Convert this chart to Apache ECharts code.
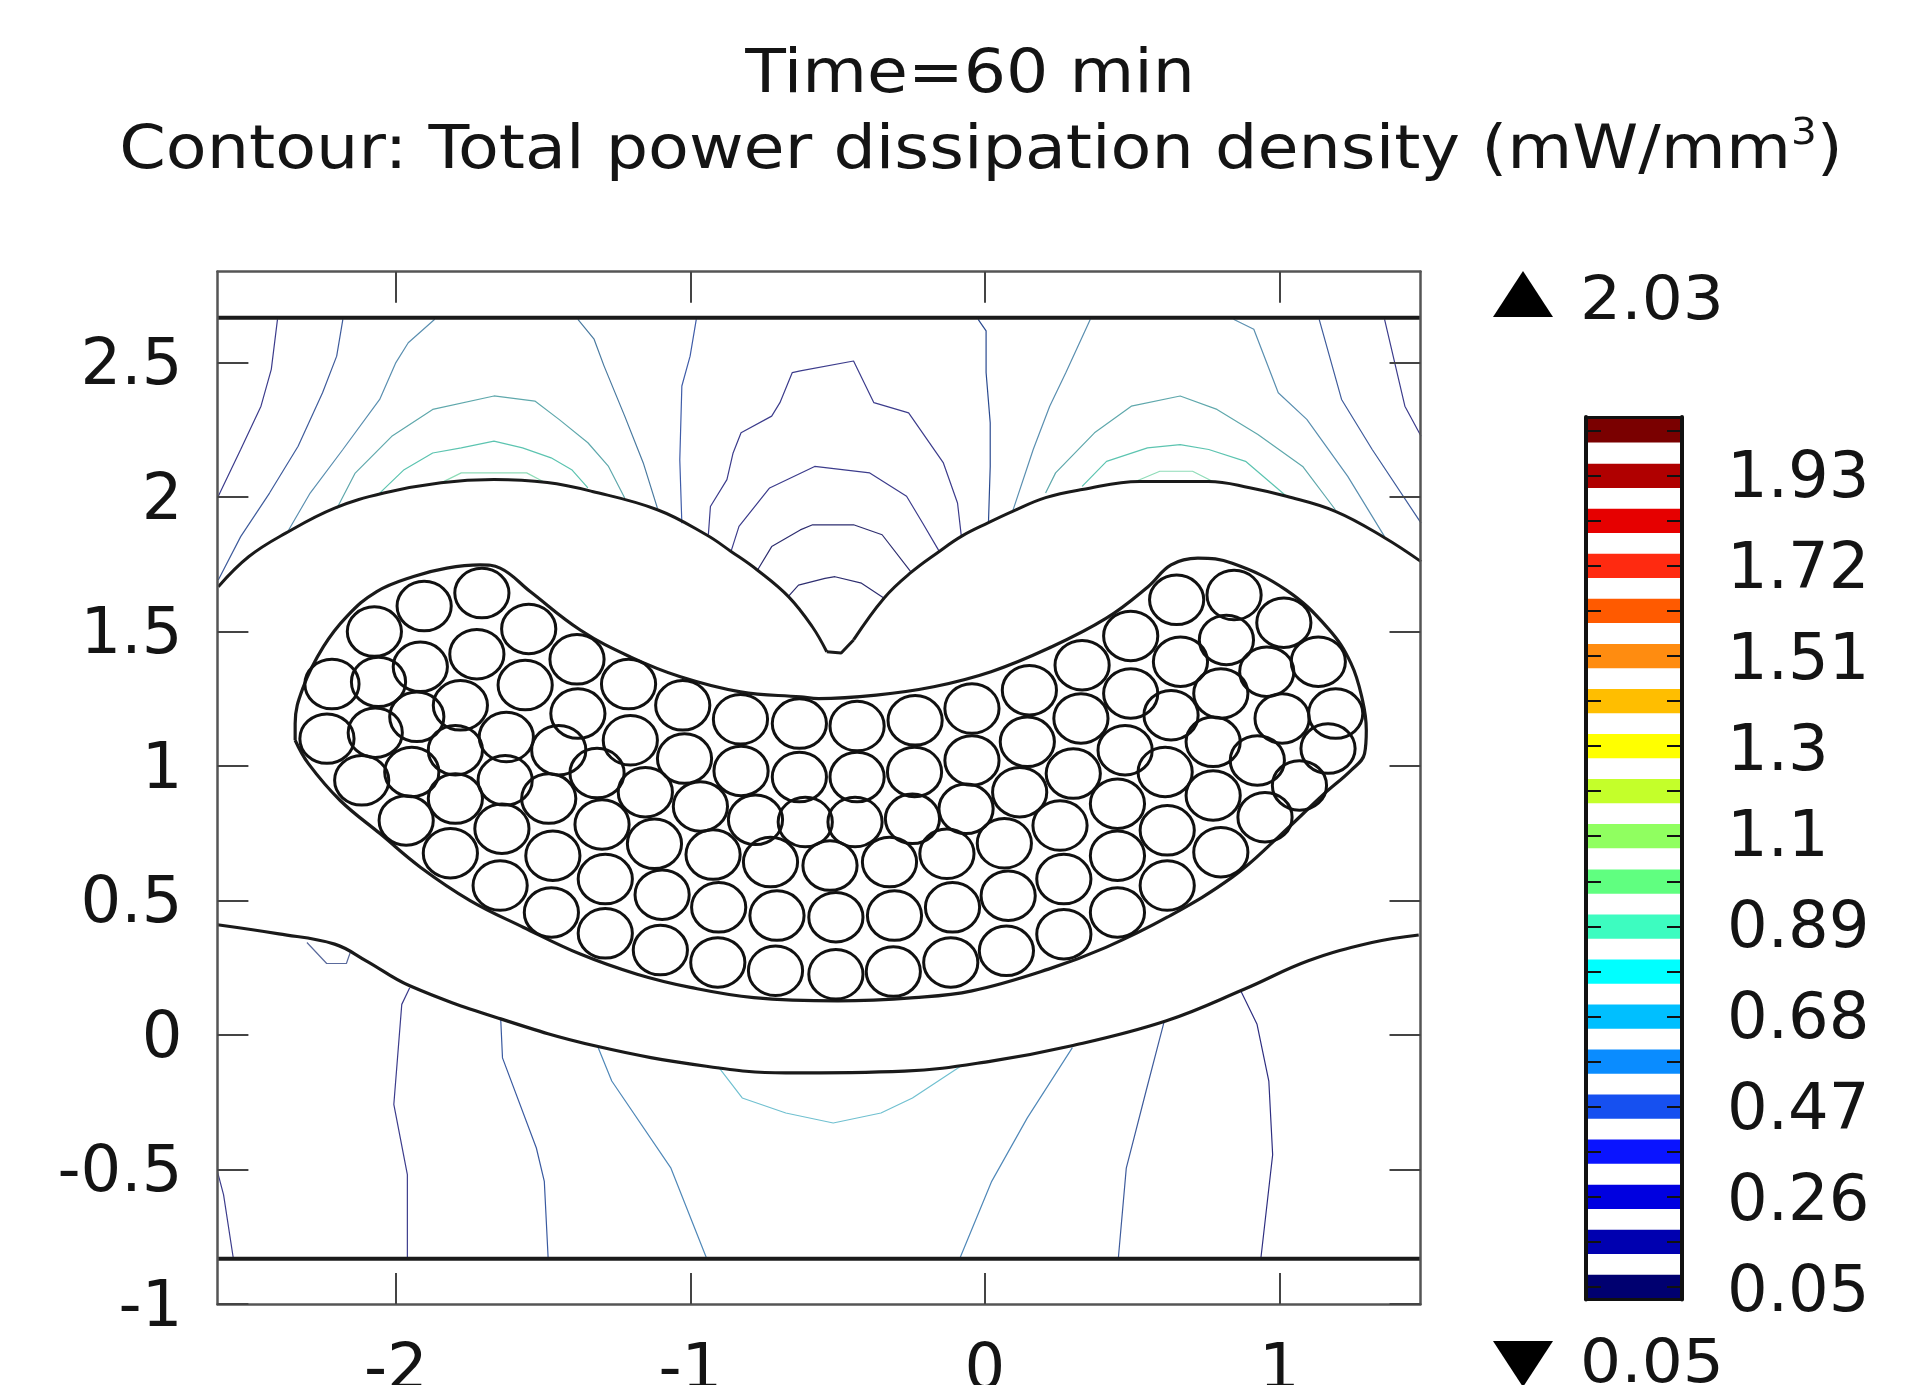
<!DOCTYPE html>
<html>
<head>
<meta charset="utf-8">
<style>html,body{margin:0;padding:0;background:#fff;overflow:hidden}#c{width:1915px;height:1385px;filter:blur(0.5px)}</style>
<script src="https://cdn.jsdelivr.net/npm/echarts@6/dist/echarts.min.js"></script>
</head>
<body>
<div id="c"></div>
<script>
const titleLine1 = 'Time=60 min';
const titleLine2 = 'Contour: Total power dissipation density (mW/mm';
const titleSup = '3';
const titleEnd = ')';
const xTicks = [-2, -1, 0, 1];
const yTicks = [-1, -0.5, 0, 0.5, 1, 1.5, 2, 2.5];
const barLabels = [0.05, 0.26, 0.47, 0.68, 0.89, 1.1, 1.3, 1.51, 1.72, 1.93];
const barLevels = [0.05,0.154,0.258,0.363,0.467,0.571,0.675,0.779,0.883,0.987,1.092,1.196,1.3,1.404,1.508,1.613,1.717,1.821,1.925,2.03];
const barColours = ['#000070','#0000b0','#0000e0','#0a14ff','#1650f0','#0a8cff','#00bfff','#00ffff','#3dfcc0','#60ff80','#90ff60','#c4ff2a','#ffff00','#ffbe00','#ff8c10','#ff5a00','#ff2a10','#e60000','#b00000','#7a0000'];
const maxLabel = '2.03';
const minLabel = '0.05';

const wireRadius = 0.092;
const wireCentres = [
[-1.708,1.643],[-1.904,1.595],[-2.073,1.5],[-1.549,1.51],[-1.725,1.416],[-1.917,1.369],[-1.385,1.397],[-1.561,1.301],[-1.21,1.305],[-1.026,1.226],[-0.83,1.174],
[-2.217,1.305],[-2.059,1.313],[-1.781,1.226],[-1.382,1.195],[-1.929,1.183],[-2.234,1.102],[-2.07,1.124],[-1.625,1.108],[-1.798,1.059],[-1.447,1.059],[-1.204,1.096],[-1.02,1.028],[-0.828,0.982],
[-1.317,0.974],[-1.153,0.903],[-0.966,0.85],[-0.779,0.8],[-1.946,0.978],[-2.116,0.947],[-1.629,0.947],[-1.798,0.879],[-1.481,0.879],[-1.3,0.783],[-1.965,0.798],[-1.64,0.767],[-1.122,0.711],[-0.923,0.671],[-0.728,0.643],
[-1.815,0.676],[-1.467,0.667],[-1.646,0.556],[-1.289,0.58],[-1.096,0.522],[-0.904,0.475],[-0.706,0.444],[-1.472,0.456],[-1.289,0.378],[-1.102,0.316],[-0.907,0.27],[-0.711,0.239],
[0.651,1.618],[0.846,1.636],[1.015,1.533],[0.82,1.469],[0.495,1.484],[0.664,1.388],[1.132,1.388],[0.957,1.351],[0.33,1.375],[0.495,1.27],[0.801,1.27],[1.191,1.195],[1.009,1.177],[0.632,1.189],
[0.151,1.282],[-0.044,1.214],[-0.237,1.17],[-0.434,1.149],[-0.63,1.158],[0.326,1.177],[0.476,1.059],[0.144,1.09],[0.775,1.09],[1.165,1.065],[0.925,1.021],[0.3,0.972],[0.612,0.978],
[-0.044,1.021],[-0.239,0.978],[-0.434,0.959],[-0.63,0.959],[1.068,0.928],[0.118,0.903],[0.45,0.86],[0.775,0.891],[-0.064,0.841],[-0.246,0.804],[-0.441,0.792],[-0.61,0.792],[0.951,0.81],[0.255,0.779],[0.619,0.761],
[0.066,0.713],[-0.129,0.674],[0.45,0.667],[0.801,0.68],[-0.324,0.643],[-0.526,0.63],[0.268,0.58],[0.619,0.556],[0.079,0.518],[-0.11,0.475],[-0.307,0.444],[-0.506,0.438],[0.45,0.456],[0.268,0.375],[0.073,0.313],[-0.116,0.27],[-0.311,0.236],[-0.506,0.226]
];

const bundleOutline = [
[-2.342,1.096],[-2.342,1.158],[-2.314,1.295],[-2.246,1.444],[-2.167,1.556],[-2.065,1.649],[-1.94,1.705],[-1.827,1.736],[-1.714,1.748],[-1.646,1.736],[-1.544,1.649],[-1.374,1.506],[-1.204,1.406],[-1.034,1.332],[-0.83,1.276],[-0.626,1.257],
[-0.565,1.251],[-0.369,1.264],[-0.174,1.295],[0.021,1.351],[0.216,1.438],[0.411,1.549],[0.554,1.667],[0.632,1.748],[0.723,1.773],[0.84,1.754],[1.022,1.655],[1.165,1.512],[1.243,1.382],[1.282,1.245],[1.295,1.133],[1.289,1.046],
[1.243,0.984],[1.152,0.897],[0.996,0.736],[0.84,0.587],[0.619,0.438],[0.411,0.326],[0.216,0.245],[-0.044,0.164],[-0.239,0.139],[-0.499,0.127],[-0.785,0.139],[-1,0.177],[-1.181,0.226],[-1.374,0.301],[-1.566,0.4],[-1.748,0.5],[-1.917,0.624],[-2.053,0.748],[-2.189,0.872],[-2.297,1.009],[-2.342,1.096]
];
const upperLeft = [[-2.603,1.667],[-2.499,1.779],[-2.374,1.866],[-2.208,1.959],[-2.041,2.015],[-1.847,2.053],[-1.667,2.065],[-1.486,2.054],[-1.333,2.021],[-1.112,1.953],[-0.946,1.86],[-0.862,1.798],[-0.773,1.729],[-0.667,1.63],[-0.586,1.518],[-0.537,1.425]];
const upperNotch = [[-0.537,1.425],[-0.488,1.42],[-0.446,1.469]];
const upperRight = [[-0.446,1.469],[-0.342,1.625],[-0.253,1.718],[-0.155,1.798],[-0.08,1.854],[0.012,1.905],[0.094,1.947],[0.206,1.998],[0.33,2.028],[0.525,2.058],[0.76,2.058],[0.899,2.035],[1.024,2.003],[1.19,1.947],[1.357,1.849],[1.481,1.76]];
const lowerCurve = [[-2.606,0.41],[-2.397,0.376],[-2.208,0.338],[-2.101,0.276],[-1.953,0.183],[-1.644,0.06],[-1.321,-0.041],[-0.946,-0.116],[-0.676,-0.141],[-0.273,-0.134],[0.022,-0.097],[0.291,-0.041],[0.614,0.052],[0.882,0.171],[1.098,0.276],[1.314,0.344],[1.473,0.372]];
const topWall = [[-2.606,2.667],[1.479,2.667]];
const bottomWall = [[-2.606,-0.832],[1.479,-0.832]];

const c1 = [[-2.402,2.661],[-2.423,2.475],[-2.458,2.338],[-2.527,2.177],[-2.603,2.003]];
const c2 = [[-2.18,2.661],[-2.201,2.524],[-2.249,2.388],[-2.332,2.189],[-2.429,2.015],[-2.527,1.853],[-2.603,1.692]];
const c3 = [[-1.868,2.661],[-1.958,2.574],[-2,2.5],[-2.055,2.363],[-2.18,2.177],[-2.291,2.015],[-2.367,1.872]];
const c4 = [[-2.201,1.957],[-2.139,2.088],[-2.014,2.226],[-1.875,2.326],[-1.667,2.376],[-1.528,2.357],[-1.445,2.288],[-1.348,2.202],[-1.278,2.114],[-1.223,1.997]];
const c5 = [[-2.055,2.015],[-1.972,2.102],[-1.875,2.164],[-1.778,2.183],[-1.667,2.208],[-1.57,2.183],[-1.473,2.146],[-1.403,2.102],[-1.348,2.034]];
const c6 = [[-1.847,2.053],[-1.778,2.09],[-1.556,2.09],[-1.5,2.058]];
const c7 = [[-1.382,2.661],[-1.327,2.587],[-1.293,2.487],[-1.223,2.301],[-1.16,2.127],[-1.112,1.959]];
const c8 = [[-0.98,2.661],[-1.001,2.524],[-1.029,2.413],[-1.036,2.139],[-1.029,1.903]];
const c9 = [[-0.939,1.86],[-0.932,1.965],[-0.876,2.065],[-0.855,2.164],[-0.828,2.239],[-0.724,2.301],[-0.696,2.351],[-0.654,2.463],[-0.627,2.469],[-0.446,2.506],[-0.377,2.351],[-0.259,2.313],[-0.141,2.127],[-0.093,1.978],[-0.08,1.854]];
const c10 = [[-0.862,1.798],[-0.835,1.891],[-0.731,2.034],[-0.578,2.114],[-0.391,2.09],[-0.266,2.003],[-0.211,1.903],[-0.155,1.798]];
const c11 = [[-0.772,1.729],[-0.724,1.816],[-0.627,1.878],[-0.585,1.897],[-0.446,1.897],[-0.349,1.86],[-0.252,1.723]];
const c12 = [[-0.668,1.63],[-0.633,1.673],[-0.543,1.698],[-0.509,1.704],[-0.419,1.68],[-0.342,1.624]];
const c13 = [[-0.023,2.661],[0.004,2.618],[0.004,2.463],[0.018,2.276],[0.018,2.114],[0.012,1.903]];
const c14 = [[0.358,2.661],[0.275,2.463],[0.22,2.338],[0.164,2.177],[0.094,1.947]];
const c15 = [[0.206,2.015],[0.24,2.09],[0.372,2.239],[0.497,2.338],[0.663,2.376],[0.788,2.326],[0.927,2.233],[1.079,2.114],[1.19,1.953]];
const c16 = [[0.33,2.04],[0.413,2.133],[0.552,2.183],[0.663,2.195],[0.76,2.177],[0.885,2.133],[1.024,2.003]];
const c17 = [[0.511,2.058],[0.594,2.096],[0.705,2.096],[0.774,2.058]];
const c18 = [[0.844,2.661],[0.913,2.624],[0.996,2.388],[1.093,2.289],[1.232,2.077],[1.357,1.853]];
const c19 = [[1.135,2.661],[1.211,2.363],[1.315,2.177],[1.481,1.903]];
const c20 = [[1.357,2.661],[1.426,2.338],[1.481,2.226]];
const b1 = [[-2.302,0.344],[-2.235,0.266],[-2.168,0.266],[-2.155,0.307]];
const b2 = [[-1.953,0.176],[-1.98,0.114],[-2.007,-0.258],[-1.961,-0.519],[-1.961,-0.83]];
const b3 = [[-1.644,0.059],[-1.638,-0.085],[-1.523,-0.42],[-1.496,-0.544],[-1.483,-0.83]];
const b4 = [[-1.313,-0.047],[-1.267,-0.171],[-1.066,-0.495],[-0.945,-0.83]];
const b5 = [[-0.905,-0.118],[-0.824,-0.234],[-0.676,-0.29],[-0.515,-0.327],[-0.353,-0.29],[-0.246,-0.234],[-0.085,-0.118]];
const b6 = [[0.297,-0.047],[0.144,-0.308],[0.023,-0.544],[-0.085,-0.83]];
const b7 = [[0.609,0.052],[0.547,-0.209],[0.48,-0.495],[0.453,-0.83]];
const b8 = [[0.869,0.164],[0.924,0.04],[0.964,-0.171],[0.977,-0.445],[0.937,-0.83]];
const b9 = [[-2.606,-0.507],[-2.585,-0.594],[-2.552,-0.83]];

const FONT = '"DejaVu Sans"';
const INK = '#141414';
const contourSet = [
 [c1,'#3c3c8c'],[c2,'#3f5c9c'],[c3,'#5a8fb0'],[c4,'#5fa8ac'],[c5,'#5cc4b0'],[c6,'#8fdcb8'],[c7,'#4a7aa0'],[c8,'#3f5ca8'],[c9,'#3c3c8c'],[c10,'#3c3c8c'],
 [c11,'#2e2e70'],[c12,'#2e2e70'],[c13,'#2a4a90'],[c14,'#5a8fb0'],[c15,'#5fa8ac'],[c16,'#5cc4b0'],[c17,'#8fdcb8'],[c18,'#5a8fb0'],[c19,'#3f5c9c'],[c20,'#3c3c8c'],
 [b1,'#5a6a9c'],[b2,'#3c3c8c'],[b3,'#3a5aa0'],[b4,'#5088b8'],[b5,'#70c0d0'],[b6,'#5088b8'],[b7,'#3f5c9c'],[b8,'#2e2e80'],[b9,'#3c3c8c']
];
const solidCurves = [[upperLeft,3,0.4],[upperNotch,3,false],[upperRight,3,0.4],[lowerCurve,3.2,0.4],[bundleOutline,3.2,0.4],[topWall,4,false],[bottomWall,4,false]];

const series = [];
contourSet.forEach(([pts,col])=>series.push({type:'line',data:pts,xAxisIndex:0,yAxisIndex:0,showSymbol:false,silent:true,clip:true,animation:false,lineStyle:{color:col,width:1.2},z:3}));
solidCurves.forEach(([pts,w,sm])=>series.push({type:'line',data:pts,xAxisIndex:0,yAxisIndex:0,showSymbol:false,silent:true,smooth:sm,animation:false,lineStyle:{color:'#1a1a1a',width:w},z:4}));
series.push({type:'custom',data:wireCentres,xAxisIndex:0,yAxisIndex:0,silent:true,animation:false,z:5,clip:false,
 encode:{x:0,y:1},
 renderItem:(p,api)=>{const c=api.coord([api.value(0),api.value(1)]);const s=api.size([wireRadius,wireRadius]);
  return {type:'ellipse',shape:{cx:c[0],cy:c[1],rx:s[0],ry:s[1]},style:{fill:'none',stroke:'#111',lineWidth:3}};}});
series.push({type:'custom',data:barLevels.map(v=>[0.5,v]),xAxisIndex:2,yAxisIndex:2,silent:true,animation:false,z:2,
 encode:{x:0,y:1},
 renderItem:(p,api)=>{const v=api.value(1);const half=0.028;const a=api.coord([0,v+half]);const b=api.coord([1,v-half]);
  return {type:'rect',shape:{x:a[0],y:a[1],width:b[0]-a[0],height:b[1]-a[1]},style:{fill:barColours[p.dataIndex]}};}});

const XMIN=-2.606,XMAX=1.479,YMIN=-1,YMAX=2.838,BMIN=0.021,BMAX=2.061;
const mainTick=(vals)=>({show:true,inside:true,length:31,customValues:vals,lineStyle:{color:'#444',width:2}});
const mainLine={show:true,onZero:false,lineStyle:{color:'#555',width:2.5}};
const barLine=(w)=>({show:true,onZero:false,lineStyle:{color:'#111',width:w}});
const fmt=v=>String(v);
const option={
 backgroundColor:'#fff',animation:false,
 grid:[
  {left:217.4,top:271.7,width:1203.1,height:1032.3,containLabel:false,outerBoundsMode:'none'},
  {left:1586,top:417,width:96,height:882.5,containLabel:false,outerBoundsMode:'none'}
 ],
 xAxis:[
  {type:'value',gridIndex:0,position:'bottom',min:XMIN,max:XMAX,splitLine:{show:false},z:6,axisLine:mainLine,axisTick:mainTick(xTicks),
   axisLabel:{show:true,customValues:xTicks,formatter:fmt,fontFamily:FONT,fontSize:64,color:INK,margin:36}},
  {type:'value',gridIndex:0,position:'top',min:XMIN,max:XMAX,splitLine:{show:false},z:6,axisLine:mainLine,axisTick:mainTick(xTicks),axisLabel:{show:false}},
  {type:'value',gridIndex:1,position:'bottom',min:0,max:1,splitLine:{show:false},z:6,axisLine:barLine(3),axisTick:{show:false},axisLabel:{show:false}},
  {type:'value',gridIndex:1,position:'top',min:0,max:1,splitLine:{show:false},z:6,axisLine:barLine(3),axisTick:{show:false},axisLabel:{show:false}}
 ],
 yAxis:[
  {type:'value',gridIndex:0,position:'left',min:YMIN,max:YMAX,splitLine:{show:false},z:6,axisLine:mainLine,axisTick:mainTick(yTicks),
   axisLabel:{show:true,customValues:yTicks,formatter:fmt,fontFamily:FONT,fontSize:64,color:INK,margin:35,verticalAlign:'top',padding:[-27,0,0,0]}},
  {type:'value',gridIndex:0,position:'right',min:YMIN,max:YMAX,splitLine:{show:false},z:6,axisLine:mainLine,axisTick:mainTick(yTicks),axisLabel:{show:false}},
  {type:'value',gridIndex:1,position:'right',min:BMIN,max:BMAX,splitLine:{show:false},z:6,axisLine:barLine(4),
   axisTick:{show:true,inside:true,length:15,customValues:barLevels,lineStyle:{color:'#111',width:2}},
   axisLabel:{show:true,customValues:barLabels,formatter:fmt,fontFamily:FONT,fontSize:64,color:INK,margin:45,verticalAlign:'top',padding:[-25,0,0,0]}},
  {type:'value',gridIndex:1,position:'left',min:BMIN,max:BMAX,splitLine:{show:false},z:6,axisLine:barLine(4),
   axisTick:{show:true,inside:true,length:15,customValues:barLevels,lineStyle:{color:'#111',width:2}},axisLabel:{show:false}}
 ],
 graphic:[
  {type:'text',x:970,y:76,scaleX:1.09,style:{text:titleLine1,font:'61px "DejaVu Sans"',fill:INK,textAlign:'center',textVerticalAlign:'middle'}},
  {type:'text',x:981,y:152,scaleX:1.095,style:{text:`{a|${titleLine2}}{s|${titleSup}}{a|${titleEnd}}`,textAlign:'center',textVerticalAlign:'middle',
    rich:{a:{fontFamily:FONT,fontSize:61,fill:INK,color:INK,lineHeight:72},s:{fontFamily:FONT,fontSize:37,fill:INK,color:INK,verticalAlign:'top',lineHeight:72}}}},
  {type:'polygon',shape:{points:[[1523,271],[1493,317],[1553,317]]},style:{fill:'#000'}},
  {type:'text',x:1580,y:303,scaleX:1.06,style:{text:maxLabel,font:'61px "DejaVu Sans"',fill:INK,textVerticalAlign:'middle'}},
  {type:'polygon',shape:{points:[[1493,1341],[1553,1341],[1523,1387]]},style:{fill:'#000'}},
  {type:'text',x:1580,y:1366,scaleX:1.06,style:{text:minLabel,font:'61px "DejaVu Sans"',fill:INK,textVerticalAlign:'middle'}}
 ],
 series
};
echarts.init(document.getElementById('c')).setOption(option);
</script>
</body>
</html>
